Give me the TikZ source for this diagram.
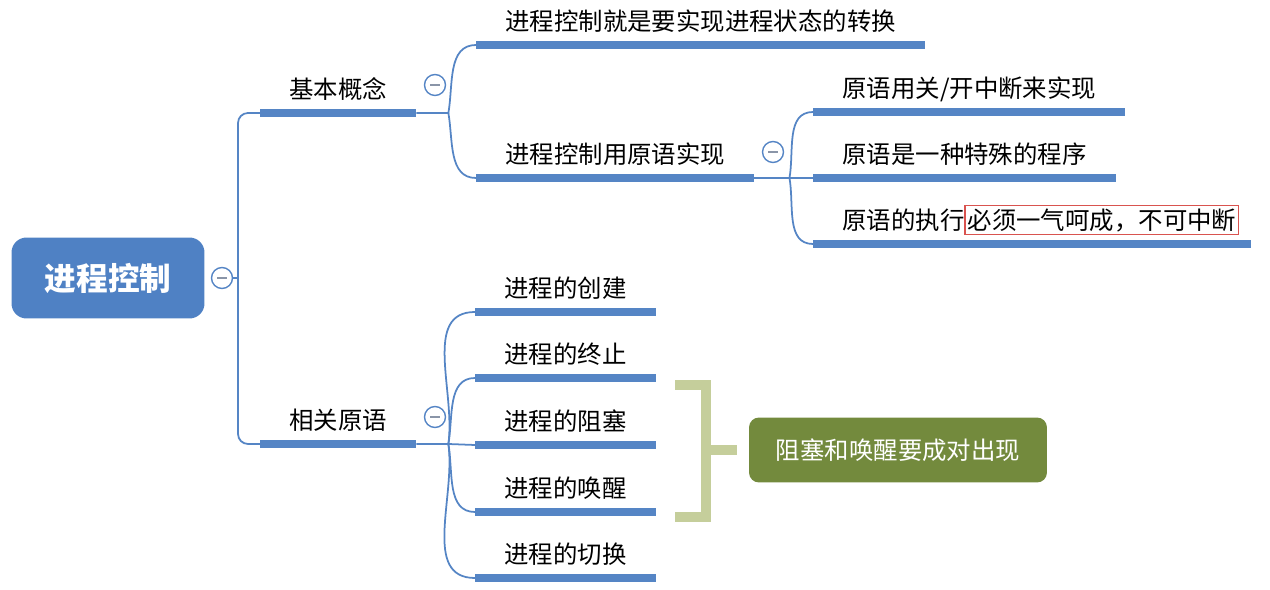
\documentclass[tikz,border=0pt]{standalone}
\usepackage{fontspec}
\setmainfont{Noto Sans CJK SC}
\usetikzlibrary{positioning}
\definecolor{mapblue}{HTML}{5585C5}
\definecolor{rootblue}{HTML}{4F81C4}
\definecolor{foldgray}{HTML}{8A95A8}
\definecolor{bracegreen}{HTML}{C5CE9B}
\definecolor{sumgreen}{HTML}{738A3D}
\definecolor{boxred}{HTML}{D9534F}
\setlength{\fboxsep}{1.2pt}
\setlength{\fboxrule}{0.6pt}
\tikzset{
  root/.style={rounded corners=0.3cm, fill=rootblue, text=white,
    font=\bfseries\fontsize{18pt}{20pt}\selectfont,
    minimum width=3.86cm, minimum height=1.62cm},
  topic/.style={anchor=south west, inner xsep=0.58cm, inner ysep=8.3pt,
    text height=11pt, text depth=0pt, font=\fontsize{13.9pt}{16pt}\selectfont},
  summary/.style={rounded corners=0.2cm, fill=sumgreen, text=white,
    font=\fontsize{13.9pt}{16pt}\selectfont,
    minimum width=5.96cm, minimum height=1.3cm},
  uline/.style={mapblue, line width=4pt},
  link/.style={mapblue, line width=1pt},
  fold/.style={circle, draw=mapblue, fill=white, line width=0.8pt,
    minimum size=0.42cm, inner sep=0pt,
    path picture={\draw[foldgray, line width=0.9pt]
      ([xshift=-2.6pt]path picture bounding box.center) --
      ([xshift=2.6pt]path picture bounding box.center);}},
  brace/.style={bracegreen, line width=6.2pt},
}
\begin{document}
\begin{tikzpicture}[x=0.02cm, y=-0.02cm]
  \useasboundingbox (0,0) rectangle (1270,590);

  % root and main branches
  \node[root] (ctl) at (108,278) {进程控制};
  \node[fold] (f0) at (222,278) {};
  \coordinate (trunk) at (238,278);
  \node[topic] (gn) at (260,113) {基本概念};
  \node[topic] (yy) at (260,444) {相关原语};

  \draw[link] (f0.east) -- (trunk);
  \draw[link, rounded corners=0.2cm] (gn.south west) -| (trunk) |- (yy.south west);

  % basic concept
  \node[topic] (zh) at (476,45) {进程控制就是要实现进程状态的转换};
  \node[topic] (yu) at (476,178) {进程控制用原语实现};
  \coordinate (j1) at ([xshift=0.64cm]gn.south east);
  \draw[link] (gn.south east) -- (j1) to[out=80,in=180] (zh.south west);
  \draw[link] (j1) to[out=-80,in=180] (yu.south west);
  \node[fold] (f1) at (435,85) {};

  \node[topic] (y1) at (813,112) {原语用关/开中断来实现};
  \node[topic] (y2) at (813,178) {原语是一种特殊的程序};
  \node[topic] (y3) at (813,244) {原语的执行\fcolorbox{boxred}{white}{必须一气呵成，不可中断}};
  \coordinate (j2) at ([xshift=0.7cm]yu.south east);
  \draw[link] (yu.south east) -- (j2) -- (y2.south west);
  \draw[link] (j2) to[out=80,in=180] (y1.south west);
  \draw[link] (j2) to[out=-80,in=180] (y3.south west);
  \node[fold] (f3) at (773,152) {};

  % primitives
  \node[topic] (p1) at (475,312) {进程的创建};
  \node[topic] (p2) at (475,378) {进程的终止};
  \node[topic] (p3) at (475,445) {进程的阻塞};
  \node[topic] (p4) at (475,512) {进程的唤醒};
  \node[topic] (p5) at (475,578) {进程的切换};
  \coordinate (j3) at ([xshift=0.64cm]yy.south east);
  \draw[link] (yy.south east) -- (j3) -- (p3.south west);
  \draw[link] (j3) to[out=80,in=180] (p2.south west);
  \draw[link] (j3) to[out=82,in=180] (p1.south west);
  \draw[link] (j3) to[out=-80,in=180] (p4.south west);
  \draw[link] (j3) to[out=-82,in=180] (p5.south west);
  \node[fold] (f2) at (435,417) {};

  \foreach \n in {gn,yy,zh,yu,y1,y2,p1,p2,p3,p4,p5}
    \draw[uline] (\n.south west) -- (\n.south east);
  \draw[uline] (y3.south west) -- ([xshift=-0.36cm]y3.south east);

  % summary bracket
  \node[summary] (sum) at (898,450) {阻塞和唤醒要成对出现};
  \coordinate (bt) at (706,385);
  \coordinate (bb) at (706,517);
  \draw[brace] (675,385) -- (bt) -- (bb) -- (675,517);
  \draw[brace] (706,450) -- ([xshift=-0.24cm]sum.west);
\end{tikzpicture}
\end{document}
